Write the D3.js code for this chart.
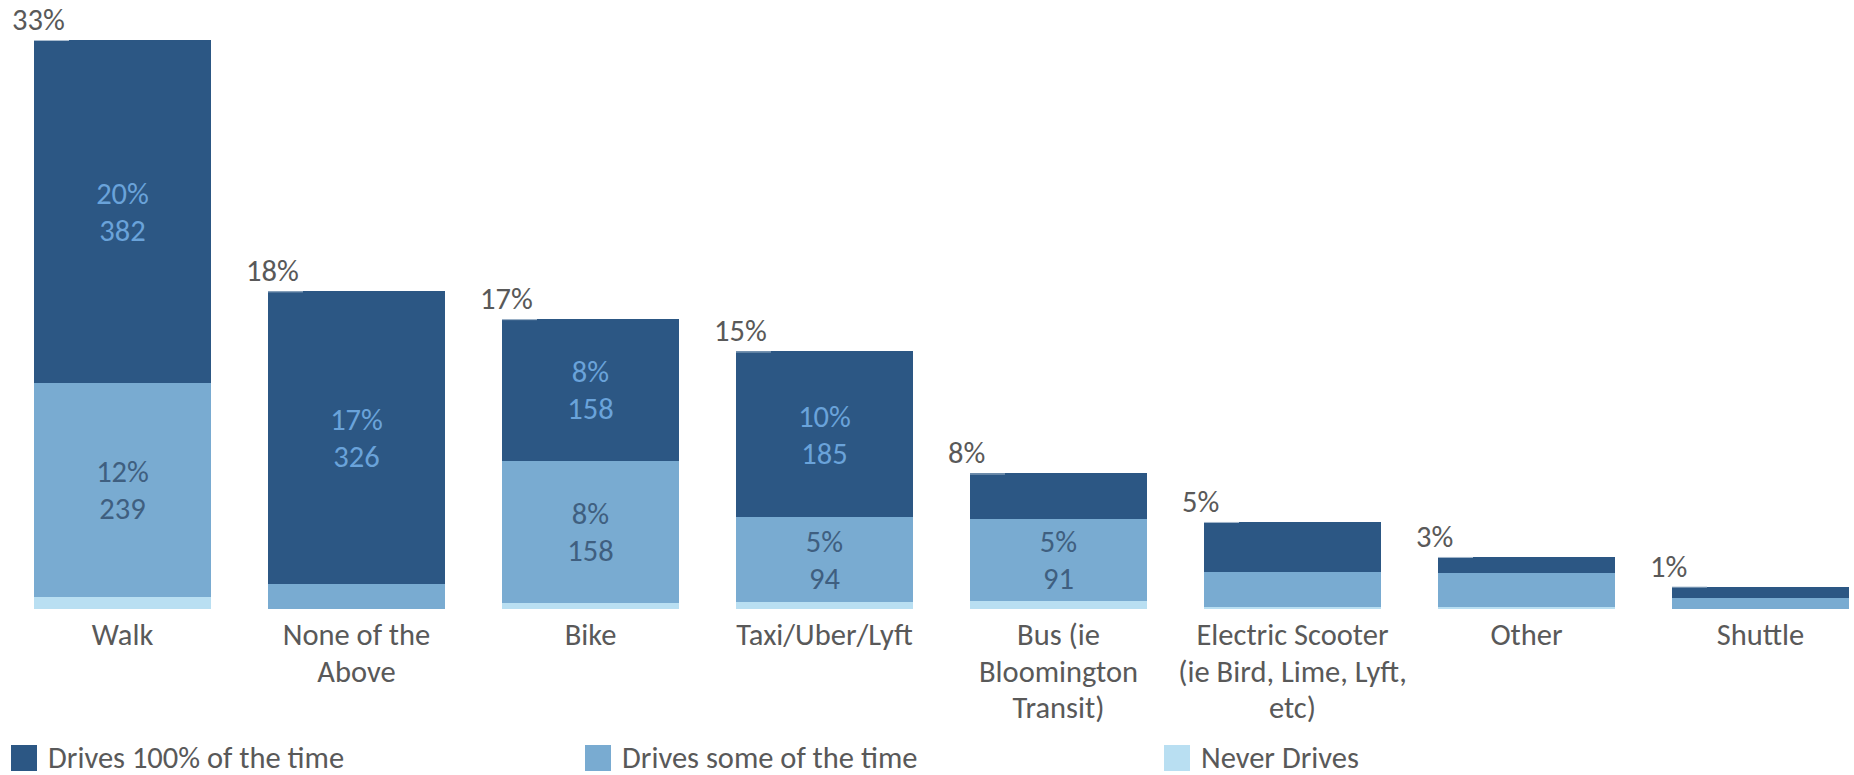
<!DOCTYPE html>
<html>
<head>
<meta charset="utf-8">
<script src="https://cdn.jsdelivr.net/npm/d3@7"></script>
<style>
  html, body { margin: 0; padding: 0; background: #ffffff; }
  svg { display: block; }
  text { font-family: Carlito, Calibri, Lato, sans-serif; }
</style>
</head>
<body>
<svg id="chart" width="1854" height="775"></svg>
<script>
// Transportation used, split by how often the respondent drives (response counts)
const categories = ["Walk", "None of the Above", "Bike", "Taxi/Uber/Lyft",
  "Bus (ie Bloomington Transit)", "Electric Scooter (ie Bird, Lime, Lyft, etc)", "Other", "Shuttle"];
const categoryLines = [
  ["Walk"],
  ["None of the", "Above"],
  ["Bike"],
  ["Taxi/Uber/Lyft"],
  ["Bus (ie", "Bloomington", "Transit)"],
  ["Electric Scooter", "(ie Bird, Lime, Lyft,", "etc)"],
  ["Other"],
  ["Shuttle"]
];
const drivesAlways = [382, 326, 158, 185, 51, 56, 18, 13];
const drivesSometimes = [239, 28, 158, 94, 91, 39, 38, 12];
const neverDrives = [13, 0, 7, 8, 9, 2, 2, 0];

const seriesNames = ["Drives 100% of the time", "Drives some of the time", "Never Drives"];
const seriesColors = ["#2c5784", "#79abd1", "#b9dff2"];
const labelColors = ["#6aa3da", "#3f5f80", "#3f5f80"];
const labelMin = 80;

const svg = d3.select("#chart");
const textColor = "#595959";
const fontSize = 30.5;

const rows = categories.map((c, i) => ({
  category: c,
  always: drivesAlways[i],
  some: drivesSometimes[i],
  never: neverDrives[i]
}));
const totals = rows.map(r => r.always + r.some + r.never);
const grandTotal = d3.sum(totals);
const pct = d3.format(".0%");

const x = d3.scaleBand()
  .domain(categories)
  .range([34, 1849])
  .paddingInner(0.2436)
  .paddingOuter(0);

const y = d3.scaleLinear()
  .domain([0, d3.max(totals)])
  .range([609, 40]);

const stacked = d3.stack().keys(["never", "some", "always"])(rows);
const colorOf = { always: seriesColors[0], some: seriesColors[1], never: seriesColors[2] };
const labelColorOf = { always: labelColors[0], some: labelColors[1], never: labelColors[2] };

// stacked bars
const layers = svg.append("g").attr("class", "bars")
  .selectAll("g")
  .data(stacked)
  .join("g")
  .attr("fill", d => colorOf[d.key]);

layers.selectAll("rect")
  .data(d => d.map(p => ({ p, key: d.key })))
  .join("rect")
  .attr("x", d => x(d.p.data.category))
  .attr("width", x.bandwidth())
  .attr("y", d => y(d.p[1]))
  .attr("height", d => Math.max(0, y(d.p[0]) - y(d.p[1])))
  .attr("shape-rendering", "crispEdges");

// segment labels: share of all responses and count
const segLabels = svg.append("g").attr("class", "segment-labels");
stacked.forEach(layer => {
  layer.forEach(p => {
    const v = p[1] - p[0];
    if (v < labelMin) return;
    const cx = x(p.data.category) + x.bandwidth() / 2;
    const cy = (y(p[0]) + y(p[1])) / 2;
    const g = segLabels.append("text")
      .attr("text-anchor", "middle")
      .attr("font-size", fontSize)
      .attr("fill", labelColorOf[layer.key]);
    g.append("tspan").attr("x", cx).attr("y", cy - 18.5).attr("dy", "0.35em").text(pct(v / grandTotal));
    g.append("tspan").attr("x", cx).attr("y", cy + 18.5).attr("dy", "0.35em").text(v);
  });
});

// total markers and total labels
const totalsG = svg.append("g").attr("class", "totals");
totalsG.selectAll("line")
  .data(rows)
  .join("line")
  .attr("x1", d => x(d.category))
  .attr("x2", d => x(d.category) + 35)
  .attr("y1", (d, i) => y(totals[i]) + 0.5)
  .attr("y2", (d, i) => y(totals[i]) + 0.5)
  .attr("stroke", "#a9bccf")
  .attr("stroke-width", 1);

totalsG.selectAll("text")
  .data(rows)
  .join("text")
  .attr("x", d => x(d.category) - 22)
  .attr("y", (d, i) => y(totals[i]) - 10)
  .attr("font-size", fontSize)
  .attr("fill", textColor)
  .text((d, i) => pct(totals[i] / grandTotal));

// category axis
const xAxis = svg.append("g").attr("class", "x-axis")
  .attr("transform", `translate(0,${y(0)})`)
  .call(d3.axisBottom(x).tickSize(0).tickFormat(""));
xAxis.select(".domain").remove();

xAxis.selectAll(".tick").each(function(d) {
  const i = categories.indexOf(d);
  const t = d3.select(this).append("text")
    .attr("text-anchor", "middle")
    .attr("font-size", fontSize)
    .attr("fill", textColor);
  categoryLines[i].forEach((line, k) => {
    t.append("tspan").attr("x", 0).attr("y", 36 + k * 36.5).text(line);
  });
});

// legend
const legendX = [11, 585, 1164];
const legend = svg.append("g").attr("class", "legend")
  .selectAll("g")
  .data(seriesNames)
  .join("g")
  .attr("transform", (d, i) => `translate(${legendX[i]},745)`);
legend.append("rect")
  .attr("width", 26).attr("height", 26)
  .attr("fill", (d, i) => seriesColors[i]);
legend.append("text")
  .attr("x", 37).attr("y", 23)
  .attr("font-size", fontSize)
  .attr("fill", textColor)
  .text(d => d);
</script>
</body>
</html>
